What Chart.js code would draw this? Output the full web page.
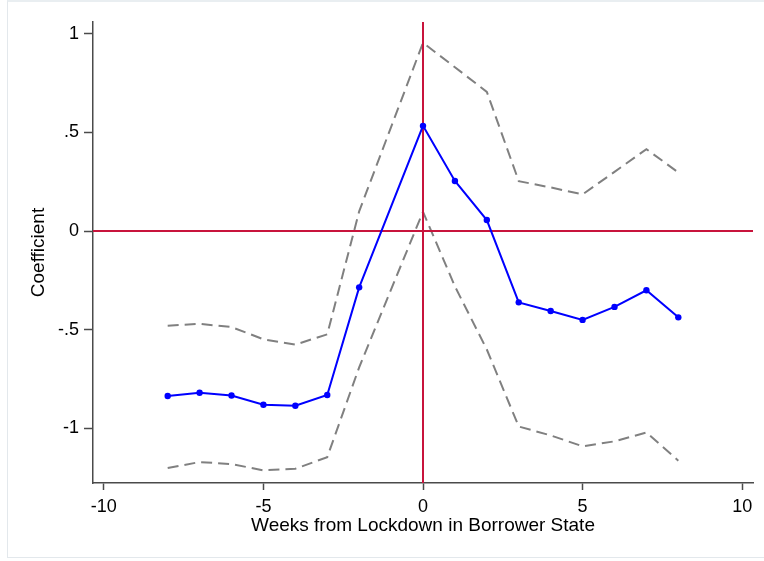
<!DOCTYPE html>
<html>
<head>
<meta charset="utf-8">
<script src="https://cdn.jsdelivr.net/npm/chart.js@4/dist/chart.umd.min.js"></script>
<style>
    html, body { margin: 0; padding: 0; background: #fff; }
    #wrap { position: relative; width: 764px; height: 561px; overflow: hidden; }
    #frame {
        position: absolute; left: 7px; top: 0; width: 800px; height: 555px;
        border-top: 2px solid #e9eef1; border-left: 1px solid #e3e8ec; border-bottom: 1px solid #e3e8ec;
    }
    canvas { position: absolute; left: 0; top: 0; }
</style>
</head>
<body>
<div id="wrap">
    <div id="frame"></div>
    <canvas id="chart" width="764" height="561"></canvas>
</div>
<script>
const weeks = [-8, -7, -6, -5, -4, -3, -2, 0, 1, 2, 3, 4, 5, 6, 7, 8]
const coef = [-0.835, -0.819, -0.833, -0.880, -0.885, -0.830, -0.285, 0.533, 0.254, 0.056, -0.361, -0.405, -0.450, -0.384, -0.300, -0.437]
const upper = [-0.479, -0.470, -0.486, -0.548, -0.575, -0.523, 0.10, 0.954, 0.83, 0.705, 0.253, 0.221, 0.186, 0.30, 0.415, 0.297]
const lower = [-1.200, -1.170, -1.180, -1.212, -1.204, -1.145, -0.69, 0.098, -0.28, -0.60, -0.99, -1.035, -1.09, -1.065, -1.02, -1.163]

const xTicks = [-10, -5, 0, 5, 10]
const yTicks = [1, 0.5, 0, -0.5, -1]
const yTickLabels = ['1', '.5', '0', '-.5', '-1']

const xMin = -10.34, xMax = 10.34
const yMin = -1.276, yMax = 1.059

const toPoints = (ys) => weeks.map((w, i) => ({ x: w, y: ys[i] }))

const RED = '#c8143c'
const AXIS = '#4a4a4a'
const FONT = "'Liberation Sans', Arial, sans-serif"

const ciStyle = {
    showLine: true,
    borderColor: '#808080',
    borderWidth: 2,
    borderDash: [11, 6],
    pointRadius: 0,
    tension: 0,
    order: 4
}

new Chart(document.getElementById('chart'), {
    type: 'scatter',
    data: {
        datasets: [
            {
                label: 'Coefficient',
                data: toPoints(coef),
                showLine: true,
                borderColor: '#0000ff',
                backgroundColor: '#0000ff',
                borderWidth: 2,
                pointRadius: 3.2,
                pointBorderWidth: 0,
                tension: 0,
                order: 1
            },
            {
                label: 'zero',
                data: [{ x: xMin, y: 0 }, { x: xMax, y: 0 }],
                showLine: true,
                borderColor: RED,
                borderWidth: 2,
                pointRadius: 0,
                order: 2
            },
            {
                label: 'lockdown',
                data: [{ x: 0, y: yMin }, { x: 0, y: yMax }],
                showLine: true,
                borderColor: RED,
                borderWidth: 2,
                pointRadius: 0,
                order: 2
            },
            { label: 'upper', data: toPoints(upper), ...ciStyle },
            { label: 'lower', data: toPoints(lower), ...ciStyle }
        ]
    },
    options: {
        responsive: false,
        animation: false,
        layout: { padding: { top: 22, right: 11, left: 0, bottom: 0 } },
        plugins: { legend: { display: false }, tooltip: { enabled: false } },
        scales: {
            x: {
                type: 'linear',
                min: xMin,
                max: xMax,
                afterBuildTicks: (scale) => { scale.ticks = xTicks.map(v => ({ value: v })) },
                afterFit: (scale) => { scale.height = 78 },
                grid: { drawOnChartArea: false, drawTicks: true, tickLength: 7, tickColor: AXIS, tickWidth: 1.5 },
                border: { display: true, color: AXIS, width: 1.5 },
                ticks: { color: '#000', font: { family: FONT, size: 18 }, padding: 6, maxRotation: 0 },
                title: {
                    display: true,
                    text: 'Weeks from Lockdown in Borrower State',
                    color: '#000',
                    font: { family: FONT, size: 19 },
                    padding: { top: 0, bottom: 24 }
                }
            },
            y: {
                type: 'linear',
                min: yMin,
                max: yMax,
                afterBuildTicks: (scale) => { scale.ticks = yTicks.map(v => ({ value: v })) },
                afterFit: (scale) => { scale.width = 93 },
                grid: { drawOnChartArea: false, drawTicks: true, tickLength: 9, tickColor: AXIS, tickWidth: 1.5 },
                border: { display: true, color: AXIS, width: 1.5 },
                ticks: {
                    color: '#000',
                    font: { family: FONT, size: 18 },
                    padding: 5,
                    callback: (value) => yTickLabels[yTicks.indexOf(value)]
                },
                title: {
                    display: true,
                    text: 'Coefficient',
                    color: '#000',
                    font: { family: FONT, size: 19 },
                    padding: { top: 27, bottom: 0 }
                }
            }
        }
    }
})
</script>
</body>
</html>
